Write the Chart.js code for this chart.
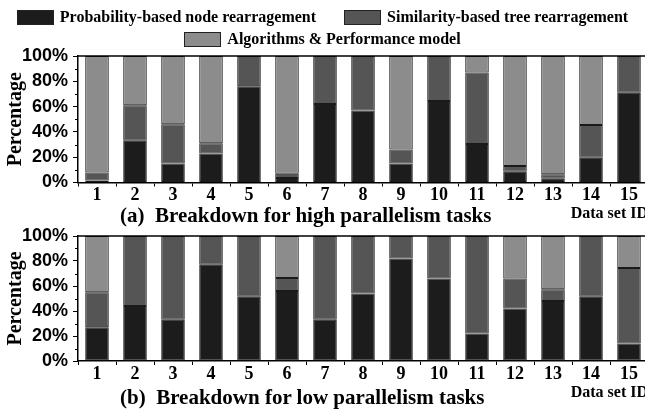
<!DOCTYPE html>
<html>
<head>
<meta charset="utf-8">
<script src="https://cdn.jsdelivr.net/npm/chart.js@4/dist/chart.umd.min.js"></script>
<style>
  html, body { margin: 0; padding: 0; background: #fff; width: 645px; height: 412px; overflow: hidden; }
  #wrap { position: relative; width: 645px; height: 412px; overflow: hidden; }
  canvas { position: absolute; left: 0; }
  #cA { top: 0; }
  #cB { top: 222px; }
  .legend-row { position: absolute; left: 0; width: 645px; display: flex; justify-content: center; font: bold 16px "Liberation Serif", serif; color: #000; white-space: pre; }
  .item { display: flex; align-items: center; margin: 0 14px; }
  .box { width: 35px; height: 13px; border: 1px solid #222; margin-right: 6px; }
  .sub { position: absolute; left: 120px; font: bold 21px "Liberation Serif", serif; color: #000; white-space: pre; line-height: 1; }
</style>
</head>
<body>
<div id="wrap">
  <canvas id="cA" width="650" height="222"></canvas>
  <canvas id="cB" width="650" height="190"></canvas>
  <div id="leg1" class="legend-row" style="top:8px;"></div>
  <div id="leg2" class="legend-row" style="top:30px;"></div>
  <div class="sub" style="top:205px;">(a)  Breakdown for high parallelism tasks</div>
  <div class="sub" style="top:387px;">(b)  Breakdown for low parallelism tasks</div>
</div>
<script>
const categories = ['1','2','3','4','5','6','7','8','9','10','11','12','13','14','15'];
const seriesNames = ['Probability-based node rearragement', 'Similarity-based tree rearragement', 'Algorithms & Performance model'];
const seriesColors = ['#1c1c1c', '#555555', '#8c8c8c'];

// (a) high parallelism tasks
const highProb = [1.5, 33, 15, 23, 76, 3.5, 62, 57, 15, 64.5, 30.5, 8.5, 3, 19.5, 71];
const highSim  = [6.5, 28, 31, 8, 24, 3.5, 38, 43, 11, 35.5, 56.5, 4.5, 3.5, 26, 29];
const highAlg  = [92, 39, 54, 69, 0, 93, 0, 0, 74, 0, 13, 87, 93.5, 54.5, 0];

// (b) low parallelism tasks
const lowProb = [27, 44, 33, 77, 51.5, 56, 33, 54, 82, 66, 22, 42, 48, 51.5, 14];
const lowSim  = [28, 56, 67, 23, 48.5, 10.5, 67, 46, 18, 34, 78, 24, 9.5, 48.5, 60.5];
const lowAlg  = [45, 0, 0, 0, 0, 33.5, 0, 0, 0, 0, 0, 34, 42.5, 0, 25.5];

const yTicks = [0, 20, 40, 60, 80, 100];
const yMinorTicks = [10, 30, 50, 70, 90];

// HTML legend
function legendItem(i) {
  return '<div class="item"><div class="box" style="background:' + seriesColors[i] + '"></div><span>' +
    seriesNames[i].replace(/&/g, '&amp;') + '</span></div>';
}
document.getElementById('leg1').innerHTML = legendItem(0) + legendItem(1);
document.getElementById('leg2').innerHTML = legendItem(2);

const framePlugin = {
  id: 'frame',
  afterDraw(chart) {
    const {ctx, chartArea} = chart;
    const y = chart.scales.y;
    ctx.save();
    ctx.strokeStyle = '#000';
    ctx.lineWidth = 1.5;
    ctx.beginPath();
    ctx.moveTo(chartArea.left, chartArea.top);
    ctx.lineTo(chartArea.right, chartArea.top);
    ctx.stroke();
    ctx.lineWidth = 1;
    yMinorTicks.forEach(v => {
      const py = Math.round(y.getPixelForValue(v)) + 0.5;
      ctx.beginPath();
      ctx.moveTo(chartArea.left - 3, py);
      ctx.lineTo(chartArea.left, py);
      ctx.stroke();
    });
    ctx.restore();
  }
};

function makeChart(id, prob, sim, alg, padTop, padBottom) {
  const data = [prob, sim, alg];
  return new Chart(document.getElementById(id), {
    type: 'bar',
    data: {
      labels: categories,
      datasets: data.map((d, i) => ({
        label: seriesNames[i],
        data: d,
        backgroundColor: seriesColors[i],
        borderColor: '#1a1a1a',
        borderWidth: 1,
        borderSkipped: false,
        barPercentage: 0.62,
        categoryPercentage: 1.0
      }))
    },
    options: {
      responsive: false,
      animation: false,
      devicePixelRatio: 1,
      layout: { padding: { top: padTop, bottom: padBottom, left: 0, right: 2 } },
      plugins: { legend: { display: false }, tooltip: { enabled: false }, title: { display: false } },
      scales: {
        x: {
          stacked: true,
          grid: { display: true, drawOnChartArea: false, offset: true, tickLength: 4, color: '#000', tickWidth: 1 },
          border: { display: true, color: '#000', width: 1.5 },
          ticks: { color: '#000', padding: 0, font: { family: 'Liberation Serif', weight: 'bold', size: 18, lineHeight: 1 } },
          title: {
            display: true, text: 'Data set ID', align: 'end', color: '#000',
            font: { family: 'Liberation Serif', weight: 'bold', size: 16, lineHeight: 1 },
            padding: { top: 1.5, bottom: 0 }
          }
        },
        y: {
          stacked: true,
          min: 0, max: 100,
          afterBuildTicks(scale) { scale.ticks = yTicks.map(v => ({ value: v })); },
          afterFit(scale) { scale.width = 78; },
          grid: { display: true, drawOnChartArea: false, tickLength: 5, color: '#000', tickWidth: 1 },
          border: { display: true, color: '#000', width: 1.5 },
          ticks: {
            color: '#000', padding: 5,
            font: { family: 'Liberation Sans', weight: 'bold', size: 18, lineHeight: 1 },
            callback: v => v + '%'
          },
          title: {
            display: true, text: 'Percentage', color: '#000',
            font: { family: 'Liberation Serif', weight: 'bold', size: 20, lineHeight: 1.2 },
            padding: { top: 3.5, bottom: 0 }
          }
        }
      }
    },
    plugins: [framePlugin]
  });
}

makeChart('cA', highProb, highSim, highAlg, 56, 0);
makeChart('cB', lowProb, lowSim, lowAlg, 13, 11.5);
</script>
</body>
</html>
